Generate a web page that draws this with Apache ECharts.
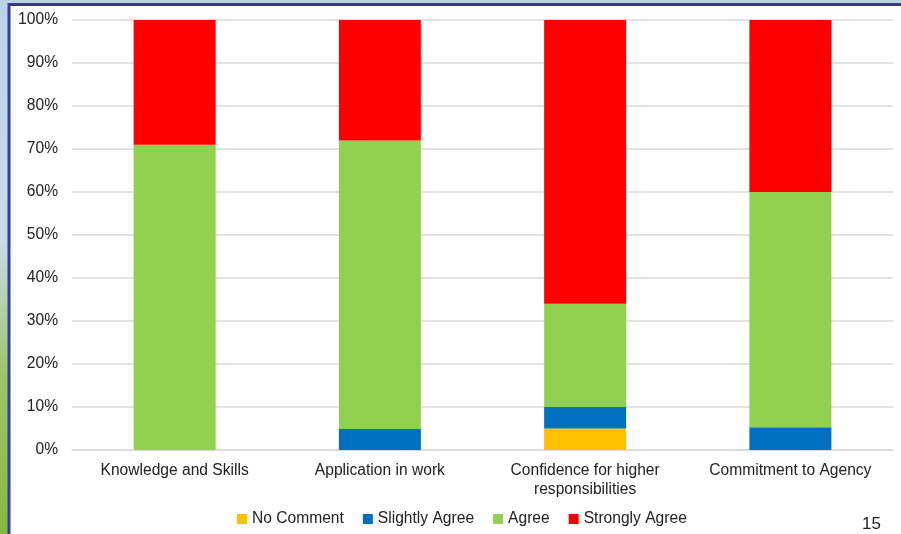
<!DOCTYPE html>
<html><head><meta charset="utf-8">
<script src="https://cdn.jsdelivr.net/npm/echarts@6/dist/echarts.min.js"></script>
<style>html,body{margin:0;padding:0;}#c{width:901px;height:534px;}</style>
</head><body><div id="c"></div>
<script>
const categories = ['Knowledge and Skills', 'Application in work', 'Confidence for higher\nresponsibilities', 'Commitment to Agency'];
const noComment = [0, 0, 5, 0];
const slightlyAgree = [0, 4.9, 5, 5.3];
const agree = [71, 67.1, 24, 54.7];
const stronglyAgree = [29, 28, 66, 40];
const yTicks = [0, 10, 20, 30, 40, 50, 60, 70, 80, 90, 100];

const chart = echarts.init(document.getElementById('c'), null, {renderer: 'canvas'});
const font = 'Liberation Sans, Arial, sans-serif';
const fs = 15.6;
const mk = (name, data, color) => ({
  name, type: 'bar', stack: 'total', data, barWidth: 82,
  itemStyle: {color}, emphasis: {disabled: true}
});
chart.setOption({
  animation: false,
  textStyle: {fontFamily: font},
  graphic: [
    {type: 'rect', z: -10, shape: {x: 0, y: 0, width: 901, height: 534},
     style: {fill: new echarts.graphic.LinearGradient(0, 0, 0, 1, [
       {offset: 0, color: '#b9d3e6'}, {offset: 0.45, color: '#c9dceb'},
       {offset: 0.7, color: '#9ec46a'}, {offset: 1, color: '#86b845'}])}},
    {type: 'rect', z: -9, shape: {x: 10, y: 6, width: 891, height: 528}, style: {fill: '#ffffff'}},
    {type: 'line', z: -8, shape: {x1: 9, y1: 4.5, x2: 901, y2: 4.5}, style: {stroke: '#363794', lineWidth: 3}},
    {type: 'line', z: -8, shape: {x1: 9, y1: 3, x2: 9, y2: 534}, style: {stroke: '#3c3d9c', lineWidth: 3}},
    {type: 'text', left: 862, top: 516, style: {text: '15', fontSize: 17, fill: '#222', fontFamily: font}}
  ],
  grid: {left: 72, right: 8, top: 20, bottom: 84},
  legend: {
    bottom: 2, left: 232, itemWidth: 10, itemHeight: 10, itemGap: 19,
    icon: 'rect', textStyle: {fontSize: fs, color: '#222', fontFamily: font},
    data: ['No Comment', 'Slightly Agree', 'Agree', 'Strongly Agree']
  },
  xAxis: {
    type: 'category', data: categories,
    axisLine: {lineStyle: {color: '#d9d9d9', width: 1.5}},
    axisTick: {show: false},
    axisLabel: {interval: 0, fontSize: fs, color: '#222', margin: 11, lineHeight: 19, fontFamily: font}
  },
  yAxis: {
    type: 'value', min: 0, max: 100, interval: 10,
    axisLine: {show: false}, axisTick: {show: false},
    splitLine: {lineStyle: {color: '#d9d9d9', width: 1.5}},
    axisLabel: {fontSize: fs, color: '#222', margin: 14, fontFamily: font,
      formatter: v => yTicks.includes(v) ? v + '%' : ''}
  },
  series: [
    mk('No Comment', noComment, '#FFC000'),
    mk('Slightly Agree', slightlyAgree, '#0070C0'),
    mk('Agree', agree, '#92D050'),
    mk('Strongly Agree', stronglyAgree, '#FF0000')
  ]
});
</script></body></html>
